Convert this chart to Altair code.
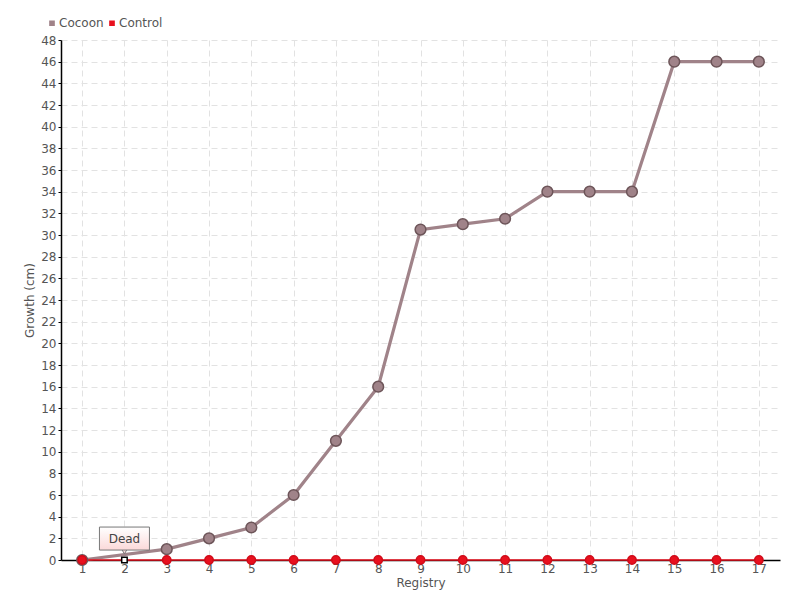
import altair as alt
import pandas as pd

registry = list(range(1, 18))
cocoon = [0, None, 1, 2, 3, 6, 11, 16, 30.5, 31, 31.5, 34, 34, 34, 46, 46, 46]
control = [0] * 17
series_names = ["Cocoon", "Control"]
series_colors = ["#a08389", "#e8101e"]
note_text = "Dead"
note_registry = 2
y_ticks = list(range(0, 49, 2))

FONT = "DejaVu Sans"

rows = []
for r, v in zip(registry, cocoon):
    if v is not None:
        rows.append({"registry": r, "value": v, "series": "Cocoon"})
for r, v in zip(registry, control):
    rows.append({"registry": r, "value": v, "series": "Control"})
df = pd.DataFrame(rows)

x_axis = alt.Axis(title="Registry", labelAngle=0, ticks=False, grid=True,
                  labelPadding=3, titlePadding=3, labelOverlap=False)
y_axis = alt.Axis(title="Growth (cm)", values=y_ticks, grid=True, tickSize=3,
                  tickColor="black", labelPadding=2, titlePadding=4,
                  labelOverlap=False, tickCount=25)
y_scale = alt.Scale(domain=[0, 48], nice=False)
x = alt.X("registry:O", scale=alt.Scale(type="point", padding=0.5), axis=x_axis)
y = alt.Y("value:Q", scale=y_scale, axis=y_axis)
color_scale = alt.Scale(domain=series_names, range=series_colors)
legend = alt.Legend(title=None, orient="none", legendX=-15, legendY=-23, padding=0,
                    direction="horizontal", symbolType="square",
                    symbolSize=10, labelFontSize=12, labelColor="#555",
                    labelFont=FONT, columnPadding=1, symbolStrokeWidth=2.5,
                    labelOffset=1)
col = alt.Color("series:N", scale=color_scale, legend=legend)

base = alt.Chart(df)
coc = base.transform_filter(alt.datum.series == "Cocoon")
con = base.transform_filter(alt.datum.series == "Control")

coc_line = coc.mark_line(strokeWidth=3.2).encode(x=x, y=y, color=col)
con_line = con.mark_line(strokeWidth=1.5).encode(x=x, y=y, color=col)
pts = base.transform_filter(alt.datum.registry != note_registry).mark_point(
    filled=True, opacity=1, strokeWidth=1.5
).encode(
    x=x, y=y,
    color=col,
    size=alt.condition(alt.datum.series == "Cocoon", alt.value(115), alt.value(70)),
    stroke=alt.condition(alt.datum.series == "Cocoon", alt.value("#6d5559"),
                         alt.value("#d00a18")),
)
dead_pt = con.transform_filter(alt.datum.registry == note_registry).mark_point(
    shape="square", filled=True, size=30, opacity=1, fill="white", stroke="black",
    strokeWidth=1.5).encode(x=x, y=y)

note_df = pd.DataFrame({"registry": [note_registry], "text": [note_text],
                        "box": [1.98], "tip": [0.78]})
note = alt.Chart(note_df)
grad = alt.LinearGradient(gradient="linear", x1=0, y1=0, x2=0, y2=1,
                          stops=[alt.GradientStop(color="#ffffff", offset=0),
                                 alt.GradientStop(color="#fbd9d9", offset=1)])
box = note.mark_rect(width=50, height=23, fill=grad, stroke="#777",
                     strokeWidth=1).encode(
    x=x, y=alt.Y("box:Q", scale=y_scale, axis=y_axis))
tip = note.mark_point(shape="triangle-down", filled=True, size=30, opacity=1,
                      fill="#fbdada", stroke="#777", strokeWidth=1).encode(
    x=x, y=alt.Y("tip:Q", scale=y_scale, axis=y_axis))
txt = note.mark_text(fontSize=12, color="#444", font=FONT).encode(
    x=x, y=alt.Y("box:Q", scale=y_scale, axis=y_axis), text="text:N")

chart = alt.layer(coc_line, con_line, pts, dead_pt, tip, box, txt).properties(
    width=719, height=520,
    autosize=alt.AutoSizeParams(type="none"),
    padding={"left": 53, "top": 32, "right": 12, "bottom": 30},
).configure_axis(
    labelFont=FONT, titleFont=FONT, labelFontSize=12, titleFontSize=12,
    labelColor="#555", titleColor="#555", titleFontWeight="normal",
    domainColor="black", domainWidth=1.5,
    gridColor="#e2e2e2", gridDash=[6, 4], gridWidth=1,
).configure_view(stroke=None)

chart.save("out.html", embed_options={"renderer": "svg", "actions": False})
